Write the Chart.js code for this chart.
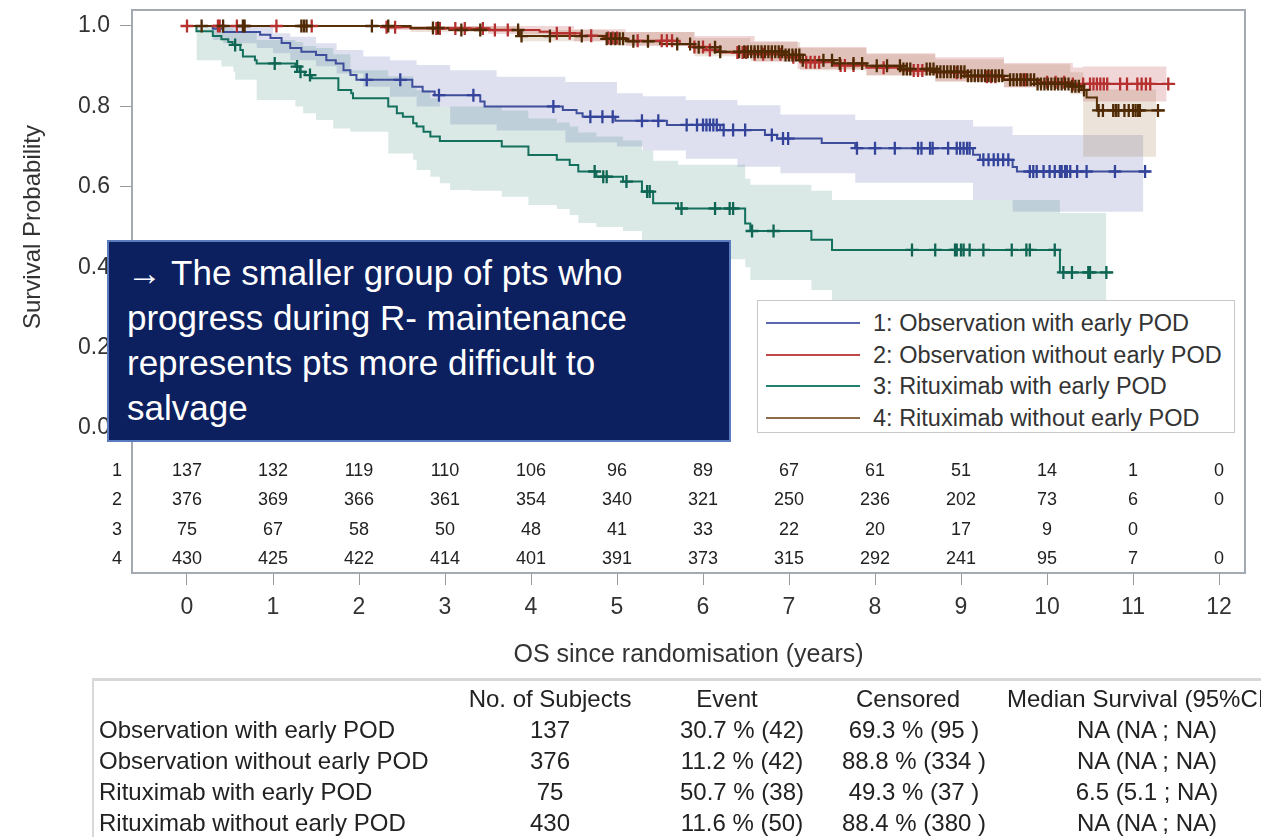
<!DOCTYPE html>
<html>
<head>
<meta charset="utf-8">
<script src="https://cdn.jsdelivr.net/npm/chart.js@4.4.0/dist/chart.umd.min.js"></script>
<style>
  html, body { margin: 0; padding: 0; background: #fff; }
  body { width: 1261px; height: 837px; position: relative; overflow: hidden;
         font-family: "Liberation Sans", Arial, sans-serif; color: #222; }
  #km { position: absolute; left: 0; top: 0; }
  #note { position: absolute; left: 107px; top: 240px; width: 624px; height: 202px; box-sizing: border-box;
          background: #0c1f5e; border: 2px solid #5a7bbd; color: #fff; font-size: 35px; line-height: 45px;
          padding: 8px 0 0 18px; white-space: nowrap; }
  #legend { position: absolute; left: 757px; top: 300px; width: 478px; height: 133px; box-sizing: border-box;
            background: #fff; border: 1px solid #c9c9c9; }
  .lg-row { position: absolute; left: 0; height: 30px; width: 100%; }
  .lg-line { position: absolute; left: 8px; top: 14px; width: 94px; height: 2px; }
  .lg-text { position: absolute; left: 115px; top: 0; font-size: 23.5px; line-height: 30px; color: #333; white-space: nowrap; }
  #summary { position: absolute; left: 92px; top: 678px; right: -4px; bottom: -4px;
             border-top: 3px solid #d8d8d8; border-left: 2px solid #d8d8d8; }
  .cell { position: absolute; font-size: 24px; line-height: 30px; height: 30px; white-space: nowrap; color: #222; }
</style>
</head>
<body>
<canvas id="km" width="1261" height="680"></canvas>
<div id="note">→ The smaller group of pts who<br>progress during R- maintenance<br>represents pts more difficult to<br>salvage</div>
<div id="legend"></div>
<div id="summary"></div>
<script>
  // ---- curve data (years, survival probability) ----
  const g1Time = [0, 0.30, 0.42, 0.85, 0.97, 1.10, 1.20, 1.33, 1.50, 1.62, 1.73, 1.82, 1.90, 1.97, 2.62, 2.74, 2.88, 3.41, 3.46, 4.37, 4.53, 4.60, 4.98, 5.58, 6.20, 6.72, 6.86, 7.38, 7.77, 9.14, 9.22, 9.60, 9.65, 11.20];
  const g1Surv = [1.0, 0.993, 0.985, 0.978, 0.970, 0.958, 0.945, 0.936, 0.928, 0.915, 0.907, 0.890, 0.878, 0.866, 0.849, 0.837, 0.828, 0.812, 0.800, 0.791, 0.783, 0.774, 0.764, 0.754, 0.741, 0.729, 0.720, 0.709, 0.696, 0.680, 0.667, 0.649, 0.638, 0.638];
  const g1Cens = [2.09, 2.48, 2.93, 3.33, 4.26, 4.69, 4.83, 4.95, 5.29, 5.48, 5.81, 5.93, 6.00, 6.04, 6.08, 6.12, 6.16, 6.24, 6.35, 6.49, 6.80, 6.93, 6.99, 7.79, 8.00, 8.23, 8.50, 8.54, 8.64, 8.67, 8.85, 8.95, 8.99, 9.03, 9.07, 9.10, 9.26, 9.32, 9.38, 9.43, 9.49, 9.55, 9.80, 9.84, 9.88, 9.96, 10.03, 10.09, 10.15, 10.17, 10.21, 10.23, 10.27, 10.35, 10.46, 10.79, 11.14];
  const g1BandTime = [0, 0.30, 0.42, 0.81, 1.00, 1.20, 1.50, 1.74, 2.05, 2.36, 2.67, 3.06, 3.60, 4.40, 5.00, 5.30, 5.80, 6.40, 6.90, 7.77, 9.14, 9.60, 11.12];
  const g1Upper = [1.0, 1.0, 1.0, 1.0, 0.982, 0.973, 0.957, 0.940, 0.924, 0.915, 0.903, 0.890, 0.874, 0.861, 0.833, 0.825, 0.816, 0.803, 0.780, 0.766, 0.750, 0.729, 0.729];
  const g1Lower = [1.0, 0.965, 0.957, 0.945, 0.932, 0.915, 0.900, 0.882, 0.849, 0.824, 0.800, 0.755, 0.740, 0.710, 0.700, 0.690, 0.670, 0.650, 0.634, 0.610, 0.567, 0.538, 0.538];

  const g2Time = [0, 2.30, 2.60, 3.52, 4.10, 4.22, 4.57, 4.88, 5.11, 5.73, 5.89, 6.04, 6.20, 6.60, 6.95, 7.13, 7.50, 7.90, 8.30, 8.70, 9.07, 9.50, 9.90, 10.30, 11.49];
  const g2Surv = [1.0, 0.997, 0.994, 0.990, 0.986, 0.982, 0.976, 0.970, 0.963, 0.955, 0.948, 0.940, 0.934, 0.930, 0.922, 0.910, 0.902, 0.896, 0.889, 0.884, 0.874, 0.866, 0.860, 0.856, 0.856];
  const g2Cens = [0.0, 0.36, 0.38, 0.58, 1.04, 1.45, 2.32, 2.42, 2.90, 2.94, 3.12, 3.23, 3.44, 3.58, 3.73, 4.30, 4.45, 4.70, 4.90, 4.95, 5.00, 5.24, 5.52, 5.58, 5.64, 5.90, 6.00, 6.08, 6.40, 6.46, 6.50, 6.60, 6.70, 6.80, 6.90, 7.05, 7.20, 7.25, 7.30, 7.35, 7.60, 7.65, 7.75, 8.10, 8.45, 8.50, 8.55, 8.95, 9.00, 9.30, 9.35, 9.40, 9.70, 9.75, 10.00, 10.10, 10.20, 10.30, 10.42, 10.50, 10.54, 10.58, 10.62, 10.66, 10.70, 10.85, 10.93, 11.05, 11.10, 11.15, 11.20, 11.41];
  const g2BandTime = [0, 2.30, 3.50, 4.50, 5.10, 5.90, 6.60, 7.10, 7.90, 8.70, 9.50, 10.30, 10.42, 11.39];
  const g2Upper = [1.0, 1.0, 1.0, 0.992, 0.985, 0.975, 0.962, 0.948, 0.932, 0.922, 0.908, 0.897, 0.899, 0.899];
  const g2Lower = [1.0, 0.990, 0.980, 0.962, 0.950, 0.932, 0.912, 0.893, 0.878, 0.862, 0.847, 0.835, 0.812, 0.812];

  const g3Time = [0, 0.11, 0.30, 0.40, 0.48, 0.53, 0.62, 0.65, 0.79, 0.81, 1.26, 1.31, 1.37, 1.45, 1.76, 1.91, 1.93, 2.34, 2.44, 2.51, 2.63, 2.67, 2.75, 2.83, 2.94, 3.66, 3.97, 4.30, 4.45, 4.55, 4.76, 5.07, 5.29, 5.42, 5.71, 6.49, 6.55, 7.26, 7.50, 10.15, 10.77];
  const g3Surv = [1.0, 0.987, 0.975, 0.967, 0.960, 0.953, 0.940, 0.924, 0.915, 0.907, 0.899, 0.886, 0.878, 0.870, 0.841, 0.833, 0.820, 0.800, 0.783, 0.774, 0.758, 0.750, 0.737, 0.725, 0.714, 0.700, 0.679, 0.667, 0.654, 0.638, 0.625, 0.613, 0.588, 0.559, 0.546, 0.509, 0.490, 0.468, 0.443, 0.387, 0.387];
  const g3Cens = [0.56, 1.02, 1.28, 1.32, 1.43, 4.74, 4.84, 4.88, 5.11, 5.35, 5.38, 5.75, 6.14, 6.31, 6.35, 6.57, 6.82, 8.43, 8.70, 8.93, 8.95, 9.00, 9.03, 9.10, 9.26, 9.59, 9.76, 9.80, 10.09, 10.19, 10.29, 10.48, 10.50, 10.69];
  const g3BandTime = [0.11, 0.30, 0.40, 0.54, 0.56, 0.81, 1.26, 1.35, 1.50, 1.70, 1.90, 2.34, 2.63, 2.67, 2.83, 2.94, 3.06, 3.30, 3.66, 3.97, 4.30, 4.45, 4.55, 4.76, 5.07, 5.29, 5.42, 5.71, 6.10, 6.49, 6.55, 7.26, 7.50, 8.50, 10.15, 10.69];
  const g3Upper = [1.0, 0.998, 0.995, 0.99, 0.985, 0.965, 0.96, 0.95, 0.945, 0.93, 0.89, 0.875, 0.845, 0.84, 0.82, 0.80, 0.80, 0.80, 0.79, 0.77, 0.76, 0.75, 0.735, 0.725, 0.715, 0.69, 0.665, 0.655, 0.655, 0.62, 0.605, 0.59, 0.567, 0.567, 0.535, 0.535];
  const g3Lower = [0.915, 0.915, 0.899, 0.886, 0.866, 0.816, 0.80, 0.783, 0.766, 0.745, 0.737, 0.683, 0.667, 0.642, 0.625, 0.609, 0.592, 0.59, 0.575, 0.555, 0.545, 0.53, 0.51, 0.50, 0.49, 0.465, 0.435, 0.42, 0.42, 0.40, 0.368, 0.343, 0.318, 0.318, 0.255, 0.255];

  const g4Time = [0, 2.60, 3.05, 3.87, 4.88, 5.10, 5.50, 5.90, 6.20, 6.93, 7.13, 7.52, 7.90, 8.30, 8.70, 9.07, 9.49, 9.88, 10.27, 10.40, 10.46, 10.58, 11.37];
  const g4Surv = [1.0, 0.995, 0.990, 0.975, 0.968, 0.962, 0.955, 0.947, 0.936, 0.928, 0.915, 0.907, 0.901, 0.893, 0.886, 0.876, 0.866, 0.856, 0.850, 0.841, 0.822, 0.790, 0.790];
  const g4Cens = [0.17, 0.42, 0.65, 0.67, 1.33, 1.36, 1.39, 2.15, 2.34, 2.86, 2.92, 3.19, 3.41, 3.85, 3.89, 4.22, 4.59, 4.88, 4.93, 4.98, 5.03, 5.07, 5.19, 5.36, 5.70, 5.85, 5.95, 6.14, 6.20, 6.42, 6.48, 6.52, 6.56, 6.60, 6.64, 6.68, 6.72, 6.76, 6.80, 6.84, 6.88, 6.92, 6.96, 7.00, 7.04, 7.08, 7.12, 7.16, 7.40, 7.50, 7.59, 7.75, 7.85, 8.02, 8.14, 8.29, 8.33, 8.37, 8.41, 8.60, 8.64, 8.68, 8.72, 8.76, 8.80, 8.84, 8.88, 8.92, 8.96, 9.00, 9.04, 9.08, 9.12, 9.16, 9.20, 9.24, 9.28, 9.32, 9.36, 9.40, 9.44, 9.48, 9.57, 9.61, 9.65, 9.69, 9.73, 9.77, 9.81, 9.85, 9.89, 9.93, 9.97, 10.01, 10.05, 10.09, 10.13, 10.17, 10.21, 10.25, 10.29, 10.33, 10.37, 10.43, 10.60, 10.65, 10.77, 10.80, 10.83, 10.90, 10.95, 11.00, 11.03, 11.06, 11.08, 11.29];
  const g4BandTime = [0, 2.60, 3.87, 4.90, 5.90, 6.55, 7.13, 7.90, 8.70, 9.50, 10.27, 10.42, 11.27];
  const g4Upper = [1.0, 1.0, 0.99, 0.985, 0.97, 0.96, 0.945, 0.93, 0.917, 0.905, 0.885, 0.842, 0.842];
  const g4Lower = [1.0, 0.985, 0.962, 0.952, 0.925, 0.912, 0.89, 0.876, 0.862, 0.848, 0.83, 0.675, 0.675];

  // ---- axes, risk table, legend and summary table ----
  const xTicks = [0, 1, 2, 3, 4, 5, 6, 7, 8, 9, 10, 11, 12];
  const yTicks = [0, 0.2, 0.4, 0.6, 0.8, 1.0];
  const riskRows = ["1", "2", "3", "4"];
  const risk1 = [137, 132, 119, 110, 106, 96, 89, 67, 61, 51, 14, 1, 0];
  const risk2 = [376, 369, 366, 361, 354, 340, 321, 250, 236, 202, 73, 6, 0];
  const risk3 = [75, 67, 58, 50, 48, 41, 33, 22, 20, 17, 9, 0, null];
  const risk4 = [430, 425, 422, 414, 401, 391, 373, 315, 292, 241, 95, 7, 0];
  const groupLabels = ["1: Observation with early POD", "2: Observation without early POD", "3: Rituximab with early POD", "4: Rituximab without early POD"];
  const tableGroups = ["Observation with early POD", "Observation without early POD", "Rituximab with early POD", "Rituximab without early POD"];
  const nSubjects = [137, 376, 75, 430];
  const eventPct = [30.7, 11.2, 50.7, 11.6];
  const eventN = [42, 42, 38, 50];
  const censPct = [69.3, 88.8, 49.3, 88.4];
  const censN = [95, 334, 37, 380];
  const medianText = ["NA (NA ; NA)", "NA (NA ; NA)", "6.5 (5.1 ; NA)", "NA (NA ; NA)"];

  const FONT = '"Liberation Sans", Arial, sans-serif';
  Chart.defaults.font.family = FONT;
  Chart.defaults.color = '#333';

  const groups = [
    { t: g1Time, s: g1Surv, cens: g1Cens, bt: g1BandTime, up: g1Upper, lo: g1Lower, line: '#3f4f9c', mark: '#34449a', band: 'rgba(70,85,165,0.18)', key: '#5b68b0' },
    { t: g2Time, s: g2Surv, cens: g2Cens, bt: g2BandTime, up: g2Upper, lo: g2Lower, line: '#b5302f', mark: '#b5302f', band: 'rgba(184,50,55,0.20)', key: '#c04848' },
    { t: g3Time, s: g3Surv, cens: g3Cens, bt: g3BandTime, up: g3Upper, lo: g3Lower, line: '#13705d', mark: '#0f6553', band: 'rgba(30,120,100,0.16)', key: '#218070' },
    { t: g4Time, s: g4Surv, cens: g4Cens, bt: g4BandTime, up: g4Upper, lo: g4Lower, line: '#563006', mark: '#4f2a04', band: 'rgba(150,100,50,0.18)', key: '#8c6a4a' }
  ];

  function survAt(times, surv, t) {
    let v = surv[0];
    for (let i = 0; i < times.length; i++) { if (times[i] <= t) v = surv[i]; }
    return v;
  }
  const pts = (xs, ys) => xs.map((x, i) => ({ x, y: ys[i] }));

  const datasets = [];
  groups.slice().reverse().forEach(g => {
    datasets.push({ data: pts(g.bt, g.up), stepped: true, borderWidth: 0, borderColor: 'transparent', pointRadius: 0, fill: false, order: 3 });
    datasets.push({ data: pts(g.bt, g.lo), stepped: true, borderWidth: 0, borderColor: 'transparent', pointRadius: 0, fill: '-1', backgroundColor: g.band, order: 3 });
  });
  groups.slice().reverse().forEach(g => {
    datasets.push({ data: pts(g.t, g.s), stepped: true, borderWidth: 2, borderColor: g.line, pointRadius: 0, fill: false, order: 2 });
  });
  groups.slice().reverse().forEach(g => {
    datasets.push({
      data: g.cens.map(t => ({ x: t, y: survAt(g.t, g.s, t) })),
      showLine: false, pointStyle: 'cross', pointRadius: 6.5, pointBorderWidth: 2.3,
      pointBorderColor: g.mark, pointBackgroundColor: g.mark, pointHoverRadius: 0, order: 1
    });
  });

  const kmFrame = {
    id: 'kmFrame',
    afterDraw(chart) {
      const { ctx, chartArea: a, scales: { x, y } } = chart;
      ctx.save();
      ctx.strokeStyle = '#a4aab1';
      ctx.lineWidth = 2;
      ctx.strokeRect(a.left, a.top, a.right - a.left, a.bottom - a.top);

      // risk table
      const y0 = y.getPixelForValue(0);
      const rowOff = [43, 72, 102, 131];
      const rows = [risk1, risk2, risk3, risk4];
      ctx.fillStyle = '#222';
      ctx.textAlign = 'center';
      ctx.textBaseline = 'middle';
      ctx.font = '18px ' + FONT;
      rows.forEach((r, ri) => {
        ctx.fillText(riskRows[ri], 117, y0 + rowOff[ri]);
        r.forEach((v, i) => {
          if (v === null) return;
          ctx.fillText(String(v), x.getPixelForValue(xTicks[i]), y0 + rowOff[ri]);
        });
      });

      // y title centred on the 0..1 range
      ctx.translate(33, (y.getPixelForValue(0) + y.getPixelForValue(1)) / 2);
      ctx.rotate(-Math.PI / 2);
      ctx.font = '24px ' + FONT;
      ctx.fillStyle = '#333';
      ctx.fillText('Survival Probability', 0, 0);
      ctx.restore();
    }
  };

  new Chart(document.getElementById('km').getContext('2d'), {
    type: 'line',
    data: { datasets },
    options: {
      responsive: false,
      animation: false,
      events: [],
      layout: { padding: { top: 10, right: 16, left: 0, bottom: 0 } },
      plugins: { legend: { display: false }, tooltip: { enabled: false } },
      scales: {
        x: {
          type: 'linear', min: -0.6395, max: 12.302,
          afterBuildTicks: s => { s.ticks = xTicks.map(v => ({ value: v })); },
          afterFit: s => { s.height = 107; s.paddingLeft = 0; s.paddingRight = 0; },
          border: { display: false },
          grid: { drawOnChartArea: false, drawTicks: true, tickLength: 12, color: '#9a9a9a' },
          ticks: { font: { size: 23 }, padding: 9, maxRotation: 0, autoSkip: false, color: '#333' },
          title: { display: true, text: 'OS since randomisation (years)', font: { size: 25 }, color: '#333', padding: { top: 0, bottom: 10 } }
        },
        y: {
          type: 'linear', min: -0.3607, max: 1.0398,
          afterBuildTicks: s => { s.ticks = yTicks.map(v => ({ value: v })); },
          afterFit: s => { s.width = 132; s.paddingTop = 0; s.paddingBottom = 0; },
          border: { display: false },
          grid: { drawOnChartArea: false, drawTicks: true, tickLength: 12, color: '#9a9a9a' },
          ticks: { font: { size: 23 }, padding: 10, color: '#333', callback: v => Number(v).toFixed(1) }
        }
      }
    },
    plugins: [kmFrame]
  });

  // legend
  const legendRowY = [322, 353.5, 385, 416.5];
  document.getElementById('legend').innerHTML = groupLabels.map((lab, i) => `
    <div class="lg-row" style="top:${legendRowY[i] - 300 - 15}px">
      <div class="lg-line" style="background:${groups[i].key}"></div>
      <div class="lg-text">${lab}</div>
    </div>`).join('');

  // summary table
  const rowY = [696, 727, 758, 789, 820];
  const baseTop = 678;
  const cell = (txt, cx, cy, align) => {
    const top = cy - baseTop - 15;
    if (align === 'left') return `<div class="cell" style="left:${cx - 92}px;top:${top}px">${txt}</div>`;
    return `<div class="cell" style="left:${cx - 92 - 200}px;width:400px;text-align:center;top:${top}px">${txt}</div>`;
  };
  let html = '';
  html += cell('No. of Subjects', 548, rowY[0]);
  html += cell('Event', 725, rowY[0]);
  html += cell('Censored', 906, rowY[0]);
  html += cell('Median Survival (95%CI)', 1005, rowY[0], 'left');
  tableGroups.forEach((g, i) => {
    const cy = rowY[i + 1];
    html += cell(g, 97, cy, 'left');
    html += cell(String(nSubjects[i]), 548, cy);
    html += cell(`${eventPct[i].toFixed(1)} % (${eventN[i]})`, 740, cy);
    html += cell(`${censPct[i].toFixed(1)} % (${censN[i]} )`, 912, cy);
    html += cell(medianText[i], 1145, cy);
  });
  document.getElementById('summary').innerHTML = html;
</script>
</body>
</html>
